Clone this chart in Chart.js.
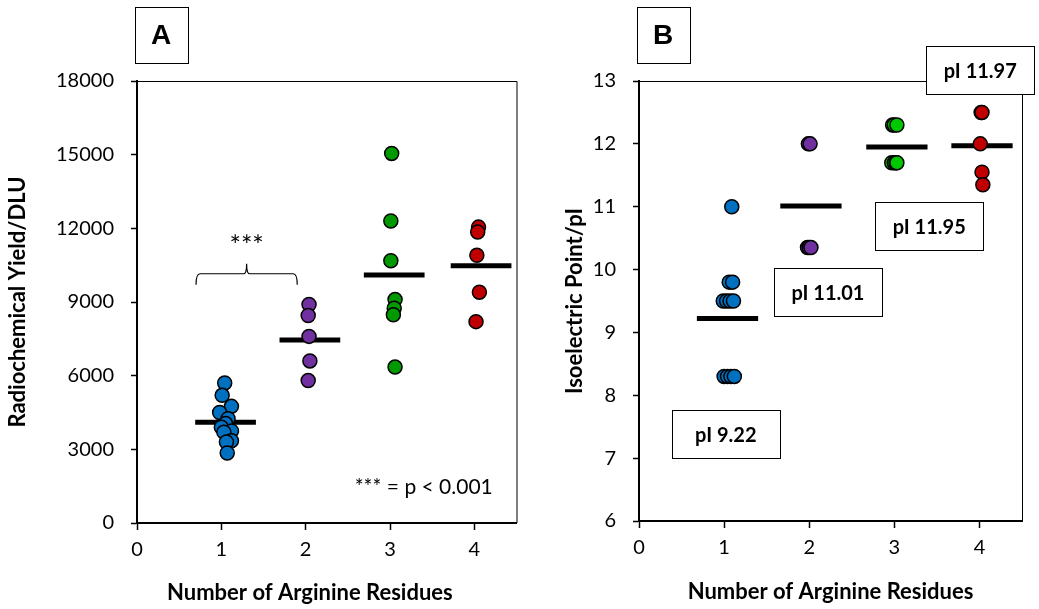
<!DOCTYPE html>
<html>
<head>
<meta charset="utf-8">
<script src="https://cdn.jsdelivr.net/npm/chart.js@4.4.1/dist/chart.umd.min.js"></script>
<style>
  body { margin: 0; background: #fff; width: 1039px; height: 609px; overflow: hidden; position: relative; }
  canvas { position: absolute; top: 0; }
  #chartA { left: 0; }
  #chartB { left: 525px; }
</style>
</head>
<body>
<canvas id="chartA" width="525" height="609"></canvas>
<canvas id="chartB" width="514" height="609"></canvas>
<script>
/*** data : panel A  (radiochemical yield) */
const xTicks = [0, 1, 2, 3, 4];
const yTicksA = [0, 3000, 6000, 9000, 12000, 15000, 18000];
const yTicksB = [6, 7, 8, 9, 10, 11, 12, 13];

const yieldR1 = [5700, 5200, 4750, 4500, 4250, 4050, 3900, 3750, 3700, 3350, 3300, 2850];
const yieldR1x = [1.04, 1.01, 1.12, 0.98, 1.08, 1.05, 1.00, 1.12, 1.03, 1.12, 1.06, 1.07];
const yieldR2 = [8900, 8450, 7600, 6600, 5800];
const yieldR2x = [2.04, 2.03, 2.04, 2.05, 2.03];
const yieldR3 = [15050, 12300, 10680, 9100, 8750, 8480, 6350];
const yieldR3x = [3.02, 3.01, 3.01, 3.06, 3.05, 3.04, 3.06];
const yieldR4 = [12050, 11850, 10900, 9400, 8200];
const yieldR4x = [4.05, 4.04, 4.03, 4.06, 4.02];
const yieldMeans = [4100, 7450, 10100, 10480];
const yieldMeanX = [1.05, 2.05, 3.05, 4.08];

/*** data : panel B  (isoelectric point) */
const pIR1 = [11.0, 9.8, 9.8, 9.5, 9.5, 9.5, 9.5, 8.3, 8.3, 8.3, 8.3];
const pIR1x = [1.09, 1.06, 1.10, 0.99, 1.03, 1.07, 1.11, 1.00, 1.04, 1.08, 1.12];
const pIR2 = [12.0, 12.0, 10.35, 10.35, 10.35];
const pIR2x = [1.99, 2.01, 1.98, 2.00, 2.02];
const pIR3 = [12.3, 12.3, 12.3, 11.7, 11.7, 11.7, 11.7];
const pIR3x = [2.98, 3.00, 3.03, 2.97, 3.00, 3.02, 3.03];
const pIR4 = [12.5, 12.5, 12.0, 11.55, 11.35];
const pIR4x = [4.02, 4.03, 4.01, 4.03, 4.04];
const pIMeans = [9.22, 11.01, 11.95, 11.97];
const pIMeanX = [1.04, 2.02, 3.03, 4.03];

/** label boxes in panel B: text, x, y (data units) */
const pILabels = ['pI 9.22', 'pI 11.01', 'pI 11.95', 'pI 11.97'];
const pILabelX = [1.02, 2.22, 3.41, 4.01];
const pILabelY = [7.38, 9.64, 10.69, 13.17];

const blue = '#0070C0', purple = '#7030A0', red = '#C00000';
const greenA = '#009A00', greenB = '#00C800';
const FONT = 'Lato, "Open Sans", sans-serif';
const X_TITLE = 'Number of Arginine Residues';

function pts(xs, ys) {
  return ys.map((y, i) => ({ x: xs[i], y: y }));
}

function dots(xs, ys, color) {
  return {
    type: 'scatter',
    data: pts(xs, ys),
    backgroundColor: color,
    borderColor: '#000',
    borderWidth: 1.5,
    pointRadius: 7,
    order: 1
  };
}

function meanLines(centers, means) {
  return centers.map((c, i) => ({
    type: 'line',
    data: [{ x: c - 0.36, y: means[i] }, { x: c + 0.36, y: means[i] }],
    borderColor: '#000',
    borderWidth: 5,
    borderCapStyle: 'butt',
    pointRadius: 0,
    showLine: true,
    order: 2
  }));
}

function drawFrame(chart) {
  const { ctx, chartArea: a } = chart;
  ctx.save();
  ctx.strokeStyle = '#000';
  ctx.lineWidth = 1;
  ctx.beginPath();
  ctx.moveTo(a.left, a.top + 0.5);
  ctx.lineTo(a.right + 0.5, a.top + 0.5);
  ctx.lineTo(a.right + 0.5, a.bottom);
  ctx.stroke();
  ctx.restore();
}

function textBox(ctx, cx, cy, w, h, text, font) {
  ctx.save();
  ctx.fillStyle = '#fff';
  ctx.fillRect(Math.round(cx - w / 2) + 0.5, Math.round(cy - h / 2) + 0.5, w, h);
  ctx.strokeStyle = '#000';
  ctx.lineWidth = 1;
  ctx.strokeRect(Math.round(cx - w / 2) + 0.5, Math.round(cy - h / 2) + 0.5, w, h);
  ctx.fillStyle = '#000';
  ctx.font = font;
  ctx.textAlign = 'center';
  ctx.textBaseline = 'middle';
  ctx.fillText(text, cx, cy + 1);
  ctx.restore();
}

function panelLetter(chart, letter) {
  textBox(chart.ctx, chart.chartArea.left + 24, 35, 53, 56, letter, 'bold 28px "Liberation Sans", Arial, sans-serif');
}

function baseOptions(plotLeft, plotRight, plotTop, plotBottom, canvasW, yMin, yMax, yTicks, yTitle, yTitlePad, showXTitle) {
  return {
    responsive: false,
    animation: false,
    devicePixelRatio: 1,
    layout: { padding: { top: plotTop, right: canvasW - plotRight, left: 0, bottom: 0 } },
    plugins: { legend: { display: false }, tooltip: { enabled: false } },
    scales: {
      x: {
        type: 'linear',
        min: 0,
        max: 4.5,
        afterBuildTicks: s => { s.ticks = xTicks.map(v => ({ value: v })); },
        afterFit: s => { s.height = 609 - plotBottom; },
        ticks: { color: '#000', font: { family: FONT, size: 20 }, padding: 8, callback: v => String(v) },
        grid: { drawOnChartArea: false, tickLength: 7, tickColor: '#000', tickWidth: 1.5 },
        border: { color: '#000', width: 2 },
        title: {
          display: showXTitle, text: X_TITLE, color: '#000',
          font: { family: FONT, size: 22, weight: 'bold' }, padding: { top: 0, bottom: 4 }
        }
      },
      y: {
        type: 'linear',
        min: yMin,
        max: yMax,
        afterBuildTicks: s => { s.ticks = yTicks.map(v => ({ value: v })); },
        afterFit: s => { s.width = plotLeft; },
        ticks: { color: '#000', font: { family: FONT, size: 20 }, padding: 17, callback: v => String(v) },
        grid: { drawOnChartArea: false, tickLength: 6, tickColor: '#000', tickWidth: 1.5 },
        border: { color: '#000', width: 2 },
        title: {
          display: true, text: yTitle, color: '#000',
          font: { family: FONT, size: 22, weight: 'bold' }, padding: { top: yTitlePad, bottom: 0 }
        }
      }
    }
  };
}

/*** panel A */
const decorA = {
  id: 'decorA',
  beforeDatasetsDraw(chart) { drawFrame(chart); },
  afterDraw(chart) {
    const { ctx, scales: { x, y } } = chart;
    // significance bracket
    const l = x.getPixelForValue(0.7), r = x.getPixelForValue(1.9), m = x.getPixelForValue(1.3);
    const yl = y.getPixelForValue(10150), ye = y.getPixelForValue(9700), yn = y.getPixelForValue(10560);
    ctx.save();
    ctx.strokeStyle = '#000';
    ctx.lineWidth = 1.2;
    ctx.beginPath();
    ctx.moveTo(l, ye);
    ctx.quadraticCurveTo(l, yl, l + 4, yl);
    ctx.lineTo(m - 3, yl);
    ctx.quadraticCurveTo(m, yl, m, yn);
    ctx.quadraticCurveTo(m, yl, m + 3, yl);
    ctx.lineTo(r - 4, yl);
    ctx.quadraticCurveTo(r, yl, r, ye);
    ctx.stroke();
    ctx.fillStyle = '#000';
    ctx.textAlign = 'center';
    ctx.textBaseline = 'middle';
    ctx.font = '27px ' + FONT;
    ctx.fillText('***', m, y.getPixelForValue(11250));
    ctx.font = '21px ' + FONT;
    ctx.fillText('*** = p < 0.001', x.getPixelForValue(3.4), y.getPixelForValue(1450));
    // x axis title, sits a little left of the plot centre
    ctx.font = 'bold 22px ' + FONT;
    ctx.textBaseline = 'alphabetic';
    ctx.fillText(X_TITLE, x.getPixelForValue(2.05), 600);
    ctx.restore();
    panelLetter(chart, 'A');
  }
};

new Chart(document.getElementById('chartA'), {
  data: {
    datasets: [
      dots(yieldR1x, yieldR1, blue),
      dots(yieldR2x, yieldR2, purple),
      dots(yieldR3x, yieldR3, greenA),
      dots(yieldR4x, yieldR4, red),
      ...meanLines(yieldMeanX, yieldMeans)
    ]
  },
  options: baseOptions(137, 520, 81, 523, 525, 0, 18000, yTicksA, 'Radiochemical Yield/DLU', 5, false),
  plugins: [decorA]
});

/*** panel B */
const decorB = {
  id: 'decorB',
  beforeDatasetsDraw(chart) { drawFrame(chart); },
  afterDraw(chart) {
    const { ctx, scales: { x, y } } = chart;
    pILabels.forEach((t, i) => {
      textBox(ctx, x.getPixelForValue(pILabelX[i]), y.getPixelForValue(pILabelY[i]), 108, 48, t, 'bold 20px ' + FONT);
    });
    panelLetter(chart, 'B');
  }
};

new Chart(document.getElementById('chartB'), {
  data: {
    datasets: [
      dots(pIR1x, pIR1, blue),
      dots(pIR2x, pIR2, purple),
      dots(pIR3x, pIR3, greenB),
      dots(pIR4x, pIR4, red),
      ...meanLines(pIMeanX, pIMeans)
    ]
  },
  options: baseOptions(114, 497, 81, 521, 514, 6, 13, yTicksB, 'Isoelectric Point/pI', 37, true),
  plugins: [decorB]
});
</script>
</body>
</html>
